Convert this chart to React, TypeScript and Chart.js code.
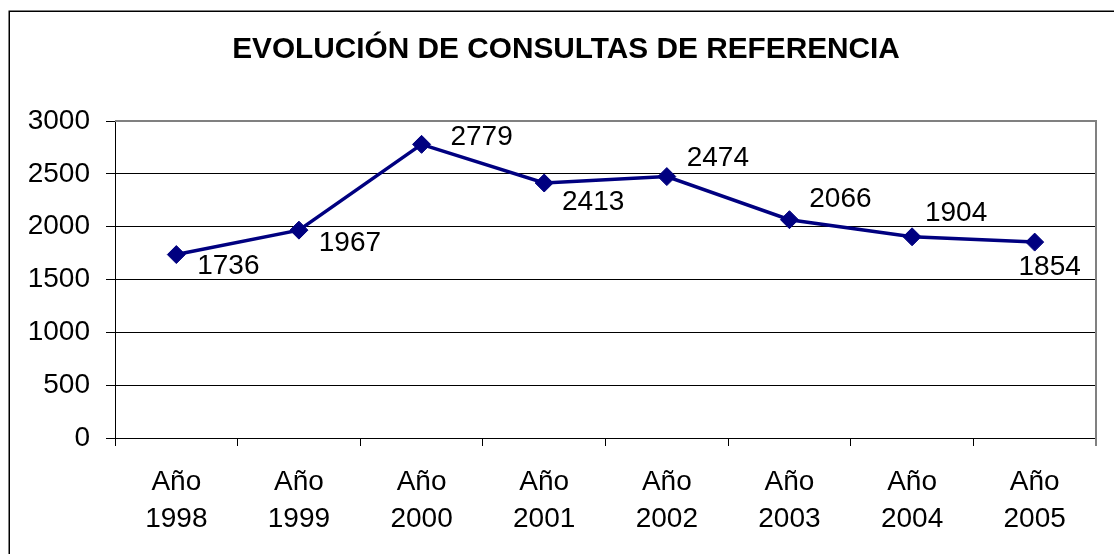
import React, { useEffect, useRef } from 'react';
import { Chart, registerables } from 'chart.js';

Chart.register(...registerables);

const TITLE = 'EVOLUCIÓN DE CONSULTAS DE REFERENCIA';
const yearPrefix = 'Año';
const years = ['1998', '1999', '2000', '2001', '2002', '2003', '2004', '2005'];
const consultas = [1736, 1967, 2779, 2413, 2474, 2066, 1904, 1854];
const yMin = 0;
const yMax = 3000;
const yStep = 500;
// offsets of each value label relative to its marker (dx, dy)
const labelOffsets: [number, number][] = [
  [52, 12],
  [51, 13],
  [60, -7],
  [49, 19],
  [51, -18],
  [51, -20],
  [44, -24],
  [15, 25],
];

const FONT = '"Liberation Sans", Arial, Helvetica, sans-serif';
const LINE_COLOR = '#000080';

const decorPlugin = {
  id: 'decor',
  beforeDraw(chart: any) {
    const ctx = chart.ctx;
    ctx.save();
    ctx.strokeStyle = '#000';
    ctx.lineWidth = 1.5;
    ctx.beginPath();
    ctx.moveTo(9.25, chart.height);
    ctx.lineTo(9.25, 11.25);
    ctx.lineTo(chart.width, 11.25);
    ctx.stroke();
    ctx.font = `bold 29.8px ${FONT}`;
    ctx.fillStyle = '#000';
    ctx.textAlign = 'center';
    ctx.textBaseline = 'alphabetic';
    ctx.fillText(TITLE, 566, 58);
    ctx.restore();
  },
  beforeDatasetsDraw(chart: any) {
    const { ctx, chartArea } = chart;
    ctx.save();
    ctx.strokeStyle = '#808080';
    ctx.lineWidth = 2;
    ctx.beginPath();
    ctx.moveTo(chartArea.left, chartArea.top);
    ctx.lineTo(chartArea.right, chartArea.top);
    ctx.lineTo(chartArea.right, chartArea.bottom + 8);
    ctx.stroke();
    ctx.restore();
  },
  afterDatasetsDraw(chart: any) {
    const ctx = chart.ctx;
    const meta = chart.getDatasetMeta(0);
    const data = chart.data.datasets[0].data;
    ctx.save();
    ctx.font = `28px ${FONT}`;
    ctx.fillStyle = '#000';
    ctx.textAlign = 'center';
    ctx.textBaseline = 'middle';
    meta.data.forEach((pt: any, i: number) => {
      const [dx, dy] = labelOffsets[i] || [0, 0];
      ctx.fillText(String(data[i]), pt.x + dx, pt.y + dy);
    });
    ctx.restore();
  },
};

export default function App() {
  const canvasRef = useRef<HTMLCanvasElement | null>(null);

  useEffect(() => {
    if (!canvasRef.current) return;
    const chart = new Chart(canvasRef.current, {
      type: 'line',
      data: {
        labels: years.map((y) => [yearPrefix, y]),
        datasets: [
          {
            data: consultas,
            borderColor: LINE_COLOR,
            backgroundColor: LINE_COLOR,
            borderWidth: 3.5,
            pointStyle: 'rectRot',
            pointRadius: 9,
            pointBorderWidth: 1,
            pointBackgroundColor: LINE_COLOR,
            pointBorderColor: LINE_COLOR,
            tension: 0,
            fill: false,
          },
        ],
      },
      options: {
        responsive: false,
        animation: false,
        layout: { padding: { top: 121, right: 18, left: 0, bottom: 0 } },
        plugins: {
          legend: { display: false },
          title: { display: false },
          tooltip: { enabled: false },
        },
        scales: {
          x: {
            type: 'category',
            offset: true,
            afterFit: (scale: any) => {
              scale.height = 116;
            },
            grid: {
              offset: true,
              drawOnChartArea: false,
              drawTicks: true,
              tickLength: 8,
              color: '#000',
              lineWidth: 1,
            },
            border: { display: true, color: '#000', width: 1 },
            ticks: {
              color: '#000',
              font: { family: FONT, size: 28, lineHeight: 1.32 },
              padding: 18,
              maxRotation: 0,
              autoSkip: false,
            },
          },
          y: {
            min: yMin,
            max: yMax,
            afterFit: (scale: any) => {
              scale.width = 115;
            },
            grid: {
              color: (c: any) => (c.tick && c.tick.value === yMax ? '#808080' : '#000'),
              tickColor: '#000',
              drawTicks: true,
              tickLength: 9,
              lineWidth: 1,
            },
            border: { display: true, color: '#000', width: 1 },
            ticks: {
              stepSize: yStep,
              color: '#000',
              font: { family: FONT, size: 28 },
              padding: 16,
              callback: (v: any) => String(v),
            },
          },
        },
      },
      plugins: [decorPlugin],
    });
    return () => chart.destroy();
  }, []);

  return (
    <div style={{ position: 'fixed', left: 0, top: 0, width: 1114, height: 554, background: '#fff' }}>
      <canvas ref={canvasRef} width={1114} height={554} style={{ display: 'block' }} />
    </div>
  );
}
